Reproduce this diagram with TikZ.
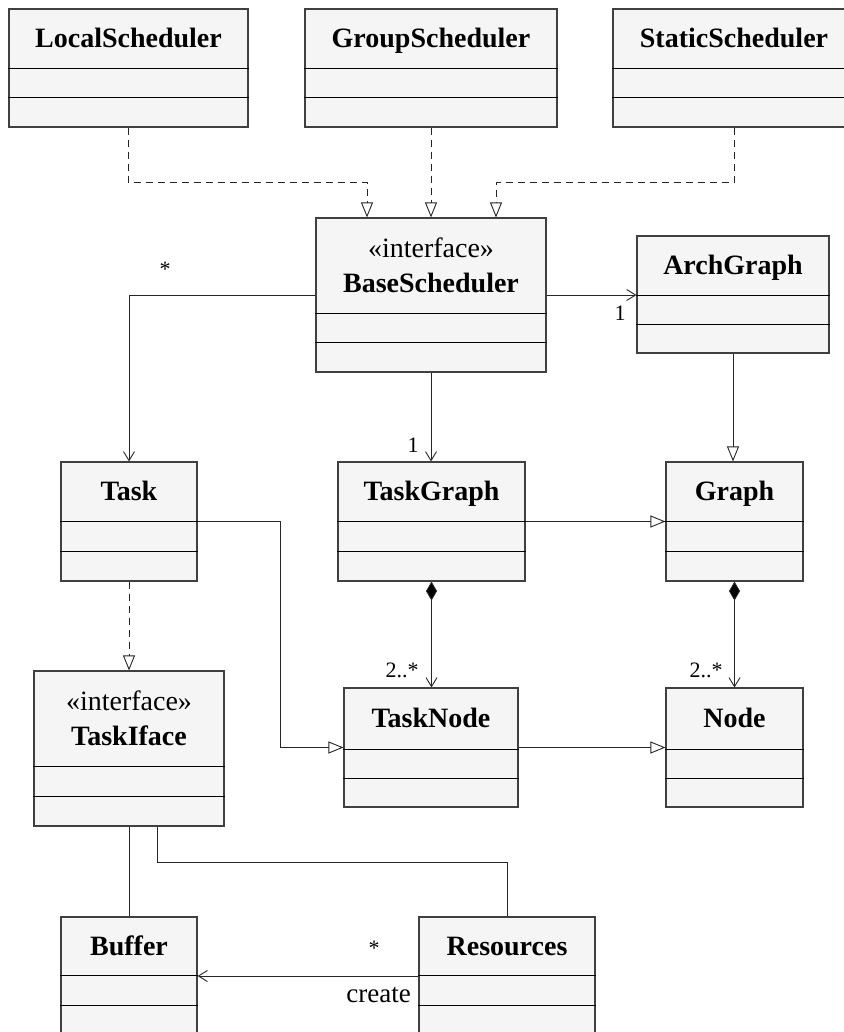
\documentclass[tikz,border=0pt]{standalone}
\usepackage{fontspec}
\setmainfont{Liberation Serif}
\usetikzlibrary{arrows.meta}

% UML class box: #1 name, #2 left, #3 top, #4 right, #5 bottom,
% #6/#7 compartment dividers, #8 title (centred in the first compartment)
\newcommand\umlclass[8]{%
  \node[classbox, minimum width={#4pt-#2pt}, minimum height={#5pt-#3pt}]
    (#1) at ({(#2+#4)/2},{(#3+#5)/2}) {};
  \draw[divider] (#1.west |- 0,#6) -- (#1.east |- 0,#6);
  \draw[divider] (#1.west |- 0,#7) -- (#1.east |- 0,#7);
  \node[classtitle] (#1-title) at ({(#2+#4)/2},{(#3+#6)/2+2}) {#8};
}
% one title line with a fixed height and depth
\newcommand\tline[1]{\strut#1}

\tikzset{
  classbox/.style={draw=black!75, fill=black!4, line width=1.1pt, inner sep=0pt},
  divider/.style={draw=black, line width=0.9pt},
  classtitle/.style={align=center, inner sep=0pt, font=\fontsize{28}{35}\selectfont},
  link/.style={draw=black!85, line width=0.9pt},
  assoc/.style={link, -{Straight Barb[length=9pt, width=11pt, line width=0.9pt]}},
  generalize/.style={link, -{Triangle[open, length=15pt, width=12pt, line width=0.9pt, fill=white]}},
  realize/.style={generalize, dash pattern=on 7pt off 5pt},
  compose/.style={link, {Diamond[length=19pt, width=11pt, fill=black]}-{Straight Barb[length=9pt, width=11pt, line width=0.9pt]}},
  mult/.style={inner sep=0pt, font=\fontsize{22}{24}\selectfont},
}

\begin{document}
\begin{tikzpicture}[x=1pt, y=-1pt]
\useasboundingbox (0,0) rectangle (843,1032);

% classes
\umlclass{local}{9}{9}{248}{127}{68}{97}{\tline{\textbf{LocalScheduler}}}
\umlclass{group}{305}{9}{557}{127}{68}{97}{\tline{\textbf{GroupScheduler}}}
\umlclass{static}{613}{9}{855}{127}{68}{97}{\tline{\textbf{StaticScheduler}}}
\umlclass{base}{316}{218}{546}{372}{313}{342}{\tline{«interface»}\\\tline{\textbf{BaseScheduler}}}
\umlclass{arch}{637}{236}{829}{353}{295}{324}{\tline{\textbf{ArchGraph}}}
\umlclass{task}{61}{462}{197}{581}{521}{551}{\tline{\textbf{Task}}}
\umlclass{taskgraph}{338}{462}{525}{581}{521}{551}{\tline{\textbf{TaskGraph}}}
\umlclass{graph}{666}{462}{803}{581}{521}{551}{\tline{\textbf{Graph}}}
\umlclass{taskiface}{34}{671}{224}{826}{766}{796}{\tline{«interface»}\\\tline{\textbf{TaskIface}}}
\umlclass{tasknode}{344}{688}{518}{807}{749}{778}{\tline{\textbf{TaskNode}}}
\umlclass{node}{666}{688}{803}{807}{749}{778}{\tline{\textbf{Node}}}
\umlclass{buffer}{61}{917}{197}{1035}{975}{1005}{\tline{\textbf{Buffer}}}
\umlclass{resources}{419}{917}{595}{1035}{975}{1005}{\tline{\textbf{Resources}}}

% schedulers realise the interface
\draw[realize] (local.south) -- ++(0,55) -| ([xshift=-64pt]base.north);
\draw[realize] (group.south) -- (group.south |- base.north);
\draw[realize] (static.south) -- ++(0,55) -| ([xshift=65pt]base.north);

% associations of BaseScheduler
\draw[assoc] (base.west) -| (task.north);
\node[mult] (m-task) at (165,269) {*};
\draw[assoc] (base.east) -- (arch.west |- base.east);
\node[mult] (m-arch) at (620,313) {1};
\draw[assoc] (base.south) -- (base.south |- taskgraph.north);
\node[mult] (m-taskgraph) at (413,445) {1};

% generalisations
\draw[generalize] (arch.south) -- (arch.south |- graph.north);
\draw[generalize] (taskgraph.east) -- (graph.west |- taskgraph.east);
\draw[generalize] (task.east) -- ++(83,0) |- (tasknode.west);
\draw[generalize] (tasknode.east) -- (node.west |- tasknode.east);

% compositions
\draw[compose] (taskgraph.south) -- (taskgraph.south |- tasknode.north);
\node[mult] (m-tasknode) at (402,670) {2..*};
\draw[compose] (graph.south) -- (graph.south |- node.north);
\node[mult] (m-node) at (706,670) {2..*};

% task interface
\draw[realize] (task.south) -- (task.south |- taskiface.north);
\draw[link] (taskiface.south) -- (taskiface.south |- buffer.north);
\draw[link] ([xshift=28pt]taskiface.south) -- ++(0,36) -| (resources.north);

% resources create buffers
\draw[assoc] (resources.west) -- (buffer.east |- resources.west);
\node[mult] (m-buffer) at (374,948) {*};
\node[mult, anchor=east, font=\fontsize{27}{30}\selectfont] (create) at (411,995) {create};
\end{tikzpicture}
\end{document}
